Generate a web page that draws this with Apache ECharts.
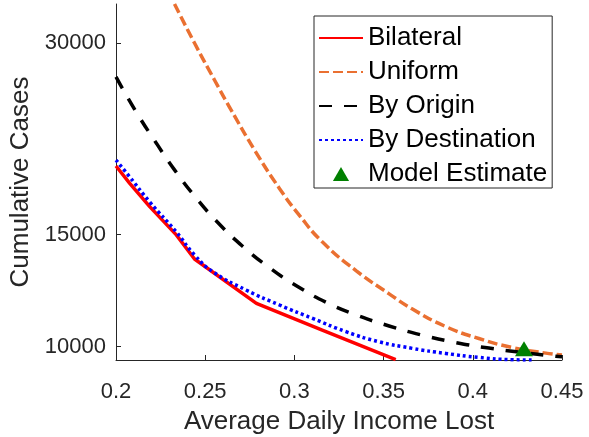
<!DOCTYPE html>
<html>
<head>
<meta charset="utf-8">
<script src="https://cdn.jsdelivr.net/npm/echarts@6/dist/echarts.min.js"></script>
<style>html,body{margin:0;padding:0;background:#fff}#c{width:589px;height:437px}</style>
</head>
<body>
<div id="c"></div>
<script>
const xTicks = [0.2, 0.25, 0.3, 0.35, 0.4, 0.45];
const yTicks = [10000, 15000, 30000];

const bilateralX = [0.2, 0.2077, 0.2189, 0.2338, 0.2440, 0.2787, 0.3156, 0.3568];
const bilateralY = [19240, 18070, 16610, 14990, 13740, 11700, 10620, 9540];

const uniformX = [0.2328, 0.2440, 0.2552, 0.2636, 0.2781, 0.2916, 0.3028, 0.3156, 0.3347, 0.3531, 0.3659, 0.3850, 0.4034, 0.4219, 0.4409, 0.45];
const uniformY = [34590, 30030, 26270, 23820, 20290, 17740, 16090, 14620, 13160, 12110, 11470, 10750, 10300, 9975, 9770, 9700];

const originX = [0.2, 0.2116, 0.2228, 0.2328, 0.2451, 0.2580, 0.2708, 0.2860, 0.3011, 0.3179, 0.3346, 0.3531, 0.3715, 0.3906, 0.4090, 0.4259, 0.4465, 0.45];
const originY = [26560, 23330, 20860, 18970, 17110, 15580, 14400, 13310, 12470, 11740, 11220, 10780, 10430, 10150, 9950, 9810, 9660, 9645];

const destX = [0.2, 0.2077, 0.2189, 0.2338, 0.2440, 0.2543, 0.2729, 0.2916, 0.3102, 0.3289, 0.3475, 0.3661, 0.3848, 0.4034, 0.4220, 0.4332];
const destY = [19660, 18490, 16890, 15150, 13940, 13120, 12280, 11630, 11080, 10560, 10180, 9940, 9760, 9620, 9540, 9530];

const modelX = [0.4287];
const modelY = [9930];

const zip = (xs, ys) => xs.map((x, i) => [x, ys[i]]);
const txt = '#262626';
const font = 'Liberation Sans';
const lineItem = name => ({name: name, itemStyle: {opacity: 0}});

const chart = echarts.init(document.getElementById('c'), null, {renderer: 'canvas'});
chart.setOption({
  animation: false,
  backgroundColor: '#fff',
  grid: {left: 116, top: 4, right: 27, bottom: 77, containLabel: false, outerBoundsMode: 'none'},
  xAxis: {
    type: 'value', min: 0.2, max: 0.45, interval: 0.05,
    name: 'Average Daily Income Lost', nameLocation: 'middle', nameGap: 49,
    nameTextStyle: {fontFamily: font, fontSize: 26, color: txt},
    axisLine: {lineStyle: {color: '#262626', width: 1}},
    axisTick: {inside: true, length: 5, lineStyle: {color: '#262626'}},
    axisLabel: {fontFamily: font, fontSize: 22, color: txt, margin: 21,
      formatter: v => String(+v.toFixed(2))},
    splitLine: {show: false}
  },
  yAxis: {
    type: 'log', min: 9530, max: 34590,
    name: 'Cumulative Cases', nameLocation: 'middle', nameGap: 76, nameRotate: 90,
    nameTextStyle: {fontFamily: font, fontSize: 26, color: txt},
    axisLine: {show: true, lineStyle: {color: '#262626', width: 1}},
    axisTick: {show: true, inside: true, length: 5, customValues: yTicks, lineStyle: {color: '#262626'}},
    axisLabel: {fontFamily: font, fontSize: 22, color: txt, margin: 10, customValues: yTicks,
      formatter: v => String(Math.round(v))},
    splitLine: {show: false}
  },
  legend: {
    left: 314, top: 16, orient: 'vertical',
    itemWidth: 44, itemHeight: 14, itemGap: 8,
    padding: [9, 5, 1, 4],
    borderColor: '#262626', borderWidth: 1, backgroundColor: '#fff',
    textStyle: {fontFamily: font, fontSize: 26, color: '#000'},
    symbolKeepAspect: true,
    data: [
      lineItem('Bilateral'),
      lineItem('Uniform'),
      lineItem('By Origin'),
      lineItem('By Destination'),
      {name: 'Model Estimate', icon: 'path://M0,13L7.5,0L15,13Z', itemStyle: {opacity: 1, color: '#008000'}}
    ]
  },
  series: [
    {name: 'Bilateral', type: 'line', data: zip(bilateralX, bilateralY), symbol: 'none', smooth: false,
     lineStyle: {color: '#ff0000', width: 3.5}, itemStyle: {color: '#ff0000'}},
    {name: 'Uniform', type: 'line', data: zip(uniformX, uniformY), symbol: 'none', smooth: 0.5,
     lineStyle: {color: '#EA7031', width: 3.5, type: [10, 4]}, itemStyle: {color: '#EA7031'}},
    {name: 'By Origin', type: 'line', data: zip(originX, originY), symbol: 'none', smooth: 0.5,
     lineStyle: {color: '#000', width: 3.5, type: [13, 12]}, itemStyle: {color: '#000'}},
    {name: 'By Destination', type: 'line', data: zip(destX, destY), symbol: 'none', smooth: 0.5,
     lineStyle: {color: '#0000ff', width: 3.5, type: [3, 3]}, itemStyle: {color: '#0000ff'}},
    {name: 'Model Estimate', type: 'scatter', data: zip(modelX, modelY), symbol: 'triangle', symbolSize: [18, 15],
     itemStyle: {color: '#008000', opacity: 1}, z: 5}
  ]
});
</script>
</body>
</html>
